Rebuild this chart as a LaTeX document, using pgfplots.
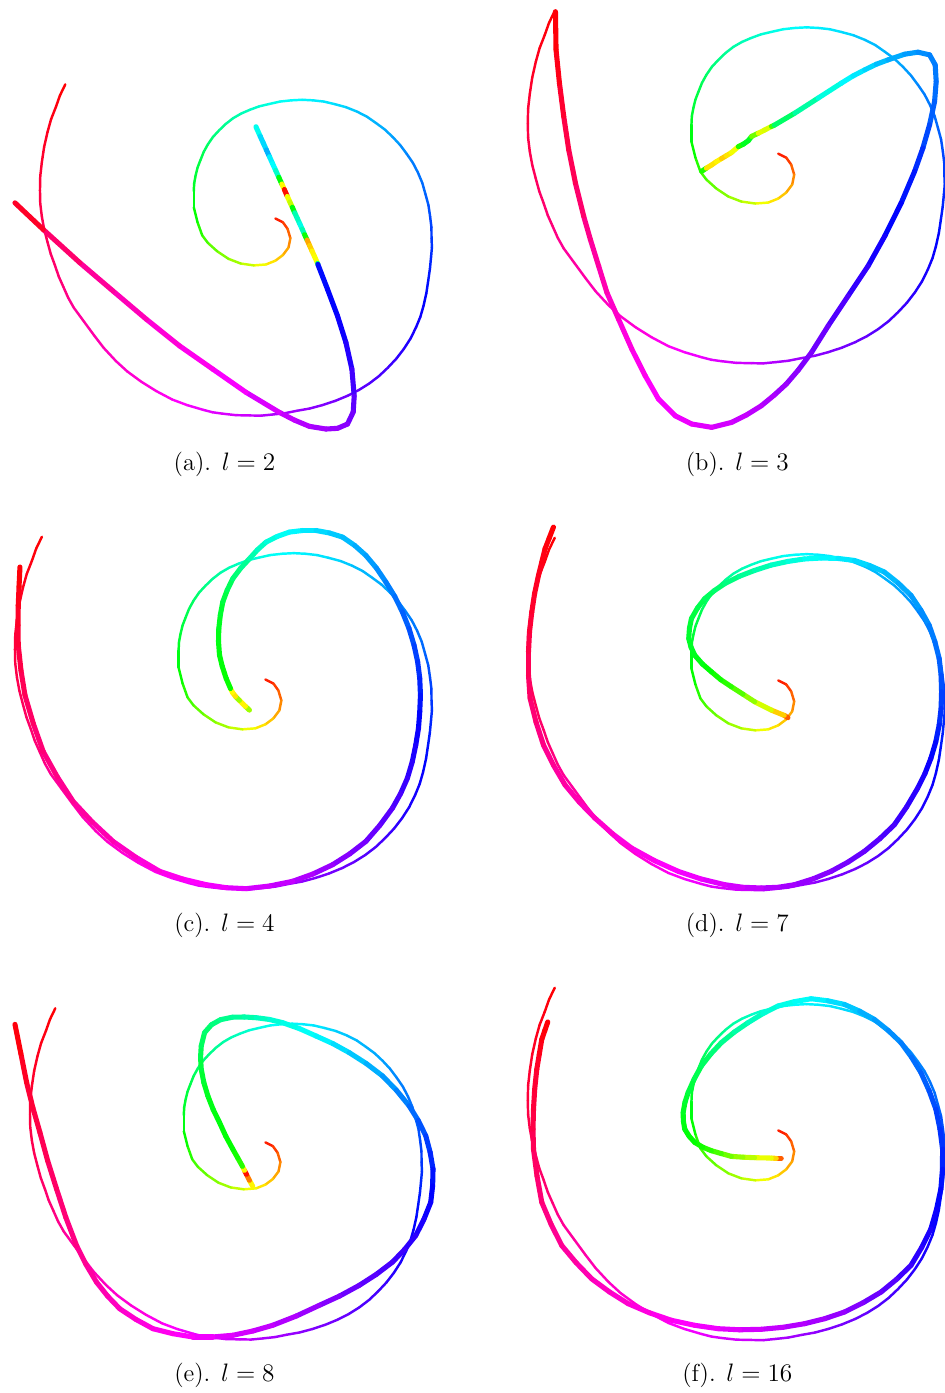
\documentclass[border=0pt]{standalone}
\usepackage{pgfplots}
\usepackage{pgfplotstable}
\pgfplotsset{compat=1.18}

% reference spiral (relative to its inner end), hue parameter c in [0,1]
\pgfplotstableread{
x y c
0 0 0.01
8 4 0.03
13 11 0.05
16 21 0.08
14 31 0.10
8 39 0.12
0 45 0.14
-10 49 0.16
-23 50 0.19
-37 48 0.22
-50 43 0.24
-62 35 0.26
-72 26 0.28
-78 18 0.30
-83 4 0.32
-87 -12 0.34
-87 -29 0.35
-86.6 -37.5 0.36
-85 -46 0.37
-83 -54.2 0.375
-80 -62 0.38
-76.5 -70.8 0.39
-72 -79 0.40
-66.5 -87 0.41
-60 -94 0.42
-52.8 -100.9 0.43
-45 -107 0.44
-36.3 -112 0.45
-27 -116 0.46
-17.2 -119.6 0.47
-7 -122 0.48
5 -124.7 0.49
17 -126 0.50
28.5 -126.6 0.505
40 -126 0.51
51.6 -124.7 0.515
63 -122 0.52
75.3 -118.7 0.53
87 -114 0.54
97.4 -108.7 0.545
107 -102 0.55
116.4 -95.1 0.555
125 -87 0.56
132.9 -78.5 0.57
140 -69 0.58
146.6 -59.4 0.585
152 -49 0.59
156.7 -37.8 0.595
160 -26 0.60
163.2 -14.3 0.61
165 -2 0.62
166.4 9.5 0.625
166.5 21 0.63
166.9 31 0.635
166 41 0.64
164.8 53.5 0.647
163 66 0.655
161 79.5 0.662
158 93 0.67
154.6 104.8 0.675
150 116 0.68
144.1 128 0.685
137 139 0.69
129 149.4 0.70
120 159 0.71
110.5 168 0.715
100 176 0.72
88.8 183 0.73
77 189 0.74
63.7 194.5 0.745
50 199 0.75
36.6 202.6 0.76
23 205 0.77
10 207.6 0.775
-3 209 0.78
-15 210.2 0.79
-27 210 0.80
-42 209.7 0.805
-57 208 0.81
-67 206.6 0.815
-77 204 0.82
-94 199 0.83
-110 193 0.84
-127 184 0.85
-143 174 0.86
-158 163 0.865
-170 152 0.87
-183 138 0.88
-193 125 0.89
-204 110 0.895
-215 95 0.90
-221 84.3 0.91
-226 73 0.92
-231 61.8 0.925
-235 50 0.93
-239.5 37.8 0.935
-243 25 0.94
-246.5 11.6 0.945
-249 -2 0.95
-250.7 -16 0.955
-251 -30 0.96
-250.7 -45 0.965
-249 -60 0.97
-246.6 -76.1 0.975
-243 -92 0.98
-239.2 -105.7 0.985
-234 -119 0.99
-229.7 -131.2 0.995
-224 -143 1.00
}\spiral

% fitted curves, one per order l
\pgfplotstableread{
x y c
256.5 127 0.48
260.8 136.6 0.50
263.9 143.4 0.55
267 150.3 0.50
270.1 157.1 0.60
273.2 164 0.42
276.3 170.8 0.58
279.4 177.7 0.35
282.5 184.5 0.33
285 190 0.00
288 196.9 0.02
290.5 202.4 0.33
293 207.8 0.08
295.4 213.3 0.60
297.9 218.8 0.30
300.4 224.2 0.62
302.9 229.7 0.35
305.3 235.2 0.55
307.8 240.6 0.10
310.3 246.1 0.12
312.7 251.5 0.15
315.2 257 0.17
318.3 264 0.17
318.6 265 0.66
328.3 290 0.66
338.3 316.7 0.67
346.7 343.3 0.68
352.7 370 0.70
355 397 0.72
354 413 0.735
348.3 425 0.75
338.3 429.3 0.765
326.7 430 0.77
310 427.3 0.78
295 421 0.79
280 413.3 0.80
246.7 393.3 0.82
213.3 370 0.84
180 346.7 0.85
146.7 320 0.87
113.3 291.7 0.89
80 263.3 0.91
43.3 230 0.95
15 203.3 1.00
}\curveA

\pgfplotstableread{
x y c
703.3 171.7 0.33
708 168.5 0.30
713 165.5 0.00
718 162 0.30
723 159 0.02
728 156 0.25
733 153 0.05
740 147 0.30
745 144.5 0.33
750 141 0.38
753.3 136.7 0.33
760 133.5 0.19
766 130.5 0.18
773.3 126.7 0.20
776 125.5 0.38
796.7 113.3 0.42
820 98.3 0.46
843.3 83.3 0.50
854.8 76.2 0.51
866.7 70 0.52
878.2 64.4 0.535
890 60 0.55
906.7 54.3 0.56
920 52.3 0.57
931.7 55 0.58
937.3 65 0.585
938.3 81.7 0.59
936.7 101.7 0.60
931.7 125 0.61
925 148.3 0.63
916.7 171.7 0.645
903.3 203.3 0.66
886.7 236.7 0.67
870 266.7 0.69
850 296.7 0.71
830 326.7 0.73
813.3 353.3 0.745
800 371 0.755
788 385 0.765
776 396 0.775
763 406.7 0.785
748 416 0.795
733.3 423.3 0.80
713.3 428.3 0.81
693.3 425 0.82
676.7 416.7 0.825
660 400 0.83
646.7 376.7 0.84
633.3 350 0.85
620 320 0.86
608.3 293.3 0.88
600 266.7 0.89
591.7 240 0.90
585 216.7 0.92
576.7 183.3 0.94
570 150 0.95
565 116.7 0.96
560.7 83.3 0.98
557.3 50 0.99
556.7 11.7 1.00
}\curveB

\pgfplotstableread{
x y c
250 711.7 0.30
246 708 0.16
240 702 0.16
236 698 0.30
233 694 0.00
231 690 0.33
226.7 680 0.33
222.8 668 0.335
220 656.7 0.34
219 643 0.345
219.3 630 0.35
220.8 616.5 0.36
223.3 603.3 0.37
227.8 591.3 0.385
233.3 580 0.40
241.2 569.5 0.42
250 560 0.44
257.9 551.2 0.455
266.7 543.3 0.47
278 537.6 0.485
290 533.3 0.50
303.3 531.7 0.51
316.7 531.7 0.52
330.3 534.2 0.53
343.3 538.3 0.54
355.6 546.8 0.55
366.7 556.7 0.56
377.4 569.5 0.57
386.7 583.3 0.58
395.7 597.9 0.59
403.3 613.3 0.60
409.9 629.8 0.61
415 646.7 0.62
418.6 663.3 0.63
420.7 680 0.64
421.4 696.7 0.65
420.7 713.3 0.66
419.4 730.1 0.67
416.7 746.7 0.68
413.2 763.5 0.69
408.3 780 0.70
401.5 795.4 0.71
393.3 810 0.72
380.6 827.3 0.73
366.7 843.3 0.74
350.5 855.8 0.75
333.3 866.7 0.76
313.6 876 0.775
293.3 883.3 0.79
270.2 888 0.80
246.7 890.7 0.81
226.6 889.7 0.82
206.7 886.7 0.83
183 881 0.84
160 873.3 0.85
136.1 859.2 0.865
113.3 843.3 0.88
92.6 824 0.89
73.3 803.3 0.90
57.5 778.8 0.91
43.3 753.3 0.92
33.4 725.3 0.93
25 696.7 0.94
21 671.8 0.95
18.3 646.7 0.96
18 626.7 0.97
18.3 606.7 0.98
19.1 587.5 0.99
20 568.3 1.00
}\curveC

\pgfplotstableread{
x y c
789.7 719.3 0.02
786 717 0.10
773 711.7 0.17
756.3 703.3 0.22
744.7 695.8 0.26
733 688.3 0.30
722.5 681.3 0.315
713 673.3 0.33
704 665.5 0.34
696.3 656.7 0.35
692.6 648.6 0.355
690.3 640 0.36
691 629.8 0.365
693 620 0.37
699 609.5 0.38
706.3 600 0.39
715.9 592 0.40
726.3 585 0.41
741 577.6 0.425
756.3 571.7 0.44
772.8 566.4 0.455
789.7 562.7 0.47
806.4 560.2 0.485
823 559.3 0.50
839.8 559.7 0.51
856.3 561.7 0.52
871.6 566.8 0.53
886.3 573.3 0.54
900.2 584.4 0.55
913 596.7 0.56
922.8 611.3 0.57
931.3 626.7 0.58
937 643.2 0.59
941.3 660 0.60
943.2 676.6 0.61
943.7 693.3 0.62
943.2 710.1 0.63
941.3 726.7 0.64
937.9 743.6 0.655
933 760 0.67
927 775.4 0.68
919.7 790 0.69
908.6 808.9 0.70
896.3 826.7 0.71
881.8 840.6 0.72
866.3 853.3 0.73
850 864 0.74
833 873.3 0.75
815 880.8 0.76
796.3 886.7 0.77
779.8 889.3 0.78
763 890 0.79
744.6 889.3 0.80
726.3 886.7 0.81
702.8 881 0.82
679.7 873.3 0.83
656 862.6 0.84
633 850 0.85
614.1 835.8 0.86
596.3 820 0.87
580.7 804 0.88
566.3 786.7 0.89
554.8 767.1 0.90
544.7 746.7 0.91
537.2 723.6 0.92
531.3 700 0.93
529.7 676.7 0.94
529.7 653.3 0.95
530.7 633.2 0.96
533 613.3 0.97
535.8 594.9 0.975
539.7 576.7 0.98
543 563.4 0.985
546.3 550 0.99
550.5 539.2 0.995
554.7 528.3 1.00
}\curveD

\pgfplotstableread{
x y c
253.3 1189 0.16
250 1183 0.16
247 1177 0.00
245 1173 0.02
243 1169 0.30
238.2 1160.4 0.315
233.3 1151.7 0.33
226.2 1138.6 0.335
220 1125 0.34
213.6 1111.9 0.345
208.3 1098.3 0.35
204.3 1085 0.36
201.7 1071.7 0.37
201 1059.8 0.38
201.7 1048.3 0.39
205 1035 0.40
212 1027 0.41
221 1022 0.42
233 1019.5 0.43
245 1019.3 0.44
256.7 1020 0.45
270.2 1021.8 0.465
283.3 1025 0.48
300.3 1031 0.49
316.7 1038.3 0.50
333.7 1046 0.515
350 1055 0.53
367.2 1066 0.545
383.3 1078.3 0.56
397.3 1092.7 0.575
410 1108.3 0.59
419.1 1122.9 0.605
426.7 1138.3 0.62
431.1 1154.8 0.635
434 1171.7 0.65
433.6 1188.5 0.66
431.7 1205 0.67
424.9 1222 0.68
416.7 1238.3 0.69
405.6 1252.2 0.70
393.3 1265 0.71
377.1 1277.3 0.72
360 1288.3 0.73
340.3 1299 0.745
320 1308.3 0.76
297 1319 0.775
273.3 1328.3 0.79
253.5 1334 0.80
233.3 1338.3 0.81
213.3 1340 0.82
193.3 1340 0.83
173.2 1336.7 0.84
153.3 1331.7 0.85
136.2 1322.4 0.86
120 1311.7 0.87
107.8 1299 0.88
96.7 1285 0.89
86 1267 0.90
76.7 1248.3 0.91
66 1220.2 0.92
56.7 1191.7 0.93
47.8 1163.5 0.94
40 1135 0.95
32.9 1110.1 0.96
26.7 1085 0.97
20.9 1055.9 0.985
15 1026.7 1.00
}\curveE

\pgfplotstableread{
x y c
783 1161 0.00
778 1161 0.12
773 1160.7 0.16
756.3 1160.3 0.20
744.6 1159.8 0.225
733 1159 0.25
723 1156.2 0.275
713 1153.3 0.30
704.4 1149.8 0.315
696.3 1145 0.33
690.7 1138.8 0.335
686.3 1131.7 0.34
684.9 1123.5 0.345
684.7 1115 0.35
686.5 1104.9 0.36
689.7 1095 0.37
695.8 1081.4 0.38
703 1068.3 0.39
712.5 1056.2 0.405
723 1045 0.42
736 1034.4 0.435
749.7 1025 0.45
764.4 1016 0.465
779.7 1008.3 0.48
796.3 1003.9 0.49
813 1001 0.50
829.8 1003.1 0.515
846.3 1006.7 0.53
861.6 1013.5 0.545
876.3 1021.7 0.56
890.2 1032.8 0.57
903 1045 0.58
913.6 1059.6 0.59
923 1075 0.60
931.2 1093.1 0.61
938 1111.7 0.62
942.1 1131.6 0.63
944.7 1151.7 0.64
944.6 1171.8 0.65
943 1191.7 0.66
938.7 1211.9 0.67
933 1231.7 0.68
923.7 1250.4 0.69
913 1268.3 0.70
898.5 1282.3 0.715
883 1295 0.73
865 1305.7 0.745
846.3 1315 0.76
826.5 1321.7 0.77
806.3 1326.7 0.78
784.8 1330.3 0.79
763 1332.3 0.80
741.3 1332.8 0.81
719.7 1331.7 0.82
696.2 1328.3 0.83
673 1323.3 0.84
651 1315.8 0.85
629.7 1306.7 0.86
610.9 1294.9 0.87
593 1281.7 0.88
577.4 1265.5 0.89
563 1248.3 0.90
552.3 1227 0.91
543 1205 0.92
538.2 1178.5 0.93
534.7 1151.7 0.94
534.2 1131.7 0.95
534.7 1111.7 0.96
535.9 1091.6 0.965
538 1071.7 0.97
540.5 1056.7 0.98
543 1041.7 0.99
546 1033 0.995
549 1024.3 1.00
}\curveF

\pgfplotsset{
  huemap/.style={colormap={hue}{rgb=(1,0,0) rgb=(1,1,0) rgb=(0,1,0)
      rgb=(0,1,1) rgb=(0,0,1) rgb=(1,0,1) rgb=(1,0,0)}},
  thin/.style={mesh, point meta=explicit, line width=1.4pt, line cap=round, line join=round},
  thick/.style={mesh, point meta=explicit, line width=2.9pt, line cap=round, line join=round},
}

\begin{document}
\begin{tikzpicture}
\begin{axis}[
  width=189.2mm, height=278.6mm, scale only axis,
  xmin=0, xmax=946, ymin=0, ymax=1393, y dir=reverse,
  hide axis, clip=false, huemap,
  point meta min=0, point meta max=1,
]
\path (rel axis cs:0,0) rectangle (rel axis cs:1,1);

% (a) l = 2
\addplot[thin] table[x expr=0.94*\thisrow{x}+276, y expr=0.94*\thisrow{y}+219, meta=c] {\spiral};
\addplot[thick] table[meta=c] {\curveA};
% (b) l = 3
\addplot[thin] table[x expr=\thisrow{x}+780, y expr=\thisrow{y}+154, meta=c] {\spiral};
\addplot[thick] table[meta=c] {\curveB};
% (c) l = 4
\addplot[thin] table[x expr=\thisrow{x}+266, y expr=\thisrow{y}+681, meta=c] {\spiral};
\addplot[thick] table[meta=c] {\curveC};
% (d) l = 7
\addplot[thin] table[x expr=\thisrow{x}+780, y expr=\thisrow{y}+682, meta=c] {\spiral};
\addplot[thick] table[meta=c] {\curveD};
% (e) l = 8
\addplot[thin] table[x expr=0.94*\thisrow{x}+266, y expr=0.94*\thisrow{y}+1145, meta=c] {\spiral};
\addplot[thick] table[meta=c] {\curveE};
% (f) l = 16
\addplot[thin] table[x expr=\thisrow{x}+780, y expr=\thisrow{y}+1133, meta=c] {\spiral};
\addplot[thick] table[meta=c] {\curveF};

\begin{scope}[every node/.style={font=\fontsize{14}{16}\selectfont}]
\node at (axis cs:225,465) {(a). $l=2$};
\node at (axis cs:739,465) {(b). $l=3$};
\node at (axis cs:225,927) {(c). $l=4$};
\node at (axis cs:739,927) {(d). $l=7$};
\node at (axis cs:225,1378) {(e). $l=8$};
\node at (axis cs:739,1378) {(f). $l=16$};
\end{scope}
\end{axis}
\end{tikzpicture}
\end{document}
